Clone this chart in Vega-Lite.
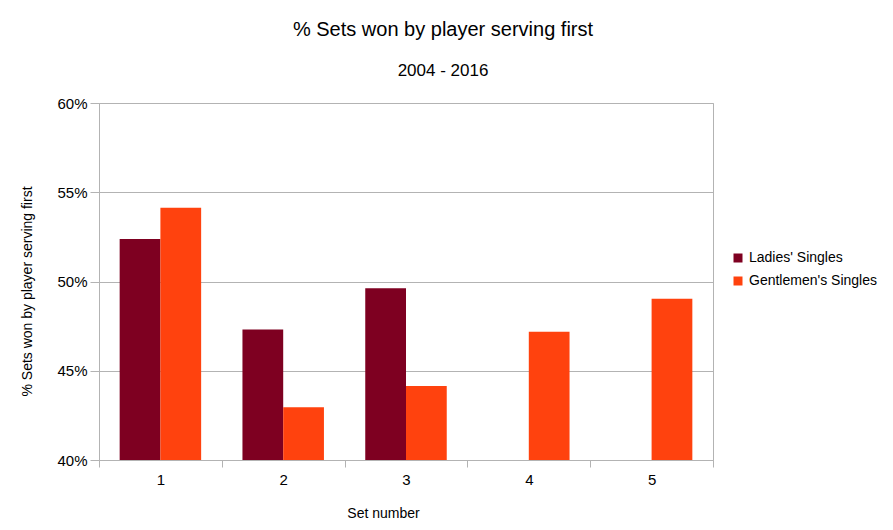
{
  "$schema": "https://vega.github.io/schema/vega-lite/v6.json",
  "width": 614,
  "height": 357,
  "autosize": {"type": "none"},
  "padding": {"left": 99, "top": 103, "right": 180, "bottom": 70},
  "background": "white",
  "title": {
    "text": "% Sets won by player serving first",
    "subtitle": "2004 - 2016",
    "anchor": "middle",
    "dx": 37,
    "offset": 17,
    "font": "Liberation Sans",
    "fontSize": 20,
    "fontWeight": "normal",
    "color": "black",
    "subtitleFont": "Liberation Sans",
    "subtitleFontSize": 17,
    "subtitleColor": "black",
    "subtitlePadding": 23
  },
  "data": {
    "values": [
      {"set": "1", "series": "Ladies' Singles", "pct": 52.38},
      {"set": "1", "series": "Gentlemen's Singles", "pct": 54.13},
      {"set": "2", "series": "Ladies' Singles", "pct": 47.31},
      {"set": "2", "series": "Gentlemen's Singles", "pct": 42.95},
      {"set": "3", "series": "Ladies' Singles", "pct": 49.62},
      {"set": "3", "series": "Gentlemen's Singles", "pct": 44.15},
      {"set": "4", "series": "Gentlemen's Singles", "pct": 47.18},
      {"set": "5", "series": "Gentlemen's Singles", "pct": 49.04}
    ]
  },
  "mark": {"type": "bar", "clip": true},
  "encoding": {
    "x": {
      "field": "set",
      "type": "nominal",
      "title": "Set number",
      "scale": {"paddingInner": 0, "paddingOuter": 0},
      "axis": {
        "labelAngle": 0,
        "tickBand": "extent",
        "domainColor": "#b3b3b3",
        "tickColor": "#b3b3b3",
        "tickSize": 7,
        "labelPadding": 5,
        "labelFont": "Liberation Sans",
        "labelFontSize": 15,
        "labelColor": "black",
        "titleFont": "Liberation Sans",
        "titleFontSize": 14,
        "titleFontWeight": "normal",
        "titleColor": "black",
        "titleX": 284,
        "titlePadding": 19
      }
    },
    "xOffset": {
      "field": "series",
      "type": "nominal",
      "sort": ["Ladies' Singles", "Gentlemen's Singles"],
      "scale": {"paddingInner": 0, "paddingOuter": 0.507}
    },
    "y": {
      "field": "pct",
      "type": "quantitative",
      "title": "% Sets won by player serving first",
      "scale": {"domain": [40, 60], "zero": false, "nice": false},
      "axis": {
        "values": [40, 45, 50, 55, 60],
        "labelExpr": "datum.value + '%'",
        "gridColor": "#b3b3b3",
        "domainColor": "#b3b3b3",
        "tickColor": "#b3b3b3",
        "tickSize": 9,
        "labelPadding": 3,
        "labelFont": "Liberation Sans",
        "labelFontSize": 15,
        "labelColor": "black",
        "titleFont": "Liberation Sans",
        "titleFontSize": 14,
        "titleFontWeight": "normal",
        "titleColor": "black",
        "titlePadding": 22,
        "titleY": 188
      }
    },
    "color": {
      "field": "series",
      "type": "nominal",
      "sort": ["Ladies' Singles", "Gentlemen's Singles"],
      "scale": {"range": ["#7e0021", "#ff420e"]},
      "legend": {
        "title": null,
        "orient": "none",
        "legendX": 632,
        "legendY": 148,
        "symbolType": "square",
        "symbolSize": 81,
        "symbolStrokeWidth": 0,
        "labelFont": "Liberation Sans",
        "labelFontSize": 14,
        "labelColor": "black",
        "rowPadding": 9,
        "labelOffset": 4
      }
    }
  },
  "config": {
    "view": {"stroke": "#b3b3b3"},
    "axis": {"grid": true},
    "axisX": {"grid": false}
  }
}
